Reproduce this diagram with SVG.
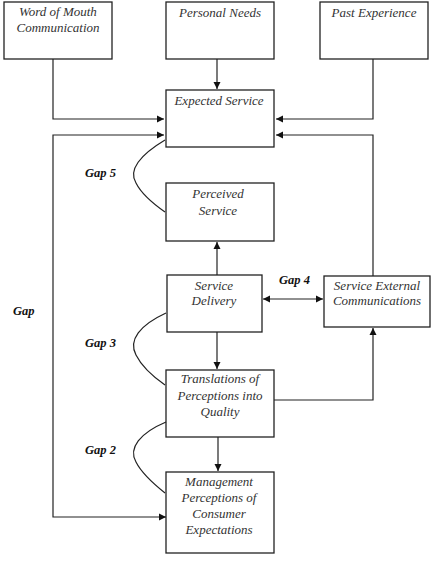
<svg xmlns="http://www.w3.org/2000/svg" width="433" height="563" viewBox="0 0 433 563">
<defs>
<marker id="ah" markerWidth="8" markerHeight="8" refX="7" refY="4" orient="auto-start-reverse" markerUnits="userSpaceOnUse">
<path d="M0,0.5 L7,4 L0,7.5 Z" fill="#111"/>
</marker>
<style>
rect{fill:#fff;stroke:#222;stroke-width:1.3}
text{font-family:"Liberation Serif","Times New Roman",serif;font-style:italic;font-size:13px;fill:#333;text-anchor:middle}
.gap{font-weight:bold;font-size:12.5px;fill:#111;text-anchor:start}
.c line,.c path,.c polyline{fill:none;stroke:#222;stroke-width:1.2}
</style>
</defs>
<rect x="0" y="0" width="433" height="563" style="fill:#fff;stroke:none"/>
<g id="word"><rect x="4" y="2" width="108" height="57"/><text x="58" y="16">Word of Mouth</text><text x="58" y="32">Communication</text></g>
<g id="personal"><rect x="166" y="2" width="108" height="57"/><text x="220" y="17">Personal Needs</text></g>
<g id="past"><rect x="320" y="2" width="108" height="57"/><text x="374" y="17">Past Experience</text></g>
<g id="expected"><rect x="166" y="90" width="108" height="57"/><text x="219" y="105">Expected Service</text></g>
<g id="perceived"><rect x="166" y="183" width="108" height="58"/><text x="218" y="198">Perceived</text><text x="218" y="215">Service</text></g>
<g id="delivery"><rect x="167" y="275" width="95" height="57"/><text x="214" y="290">Service</text><text x="214" y="305">Delivery</text></g>
<g id="external"><rect x="324" y="276" width="106" height="51"/><text x="377" y="290">Service External</text><text x="377" y="305">Communications</text></g>
<g id="translations"><rect x="166" y="370" width="108" height="67"/><text x="220" y="383">Translations of</text><text x="220" y="400">Perceptions into</text><text x="220" y="416">Quality</text></g>
<g id="management"><rect x="166" y="472" width="108" height="81"/><text x="219" y="486">Management</text><text x="219" y="502">Perceptions of</text><text x="219" y="518">Consumer</text><text x="219" y="534">Expectations</text></g>
<g id="labels">
<text class="gap" x="85" y="177">Gap 5</text>
<text class="gap" x="279" y="284">Gap 4</text>
<text class="gap" x="13" y="315">Gap</text>
<text class="gap" x="85" y="347">Gap 3</text>
<text class="gap" x="85" y="454">Gap 2</text>
</g>
<g id="connectors" class="c">
<polyline points="53,59 53,119 164,119" marker-end="url(#ah)"/>
<line x1="217" y1="59" x2="217" y2="89" marker-end="url(#ah)"/>
<polyline points="373,59 373,119 276,119" marker-end="url(#ah)"/>
<polyline points="166,517 53,517 53,135 164,135" marker-start="url(#ah)" marker-end="url(#ah)"/>
<polyline points="373,276 373,135 276,135" marker-end="url(#ah)"/>
<line x1="217" y1="275" x2="217" y2="242" marker-end="url(#ah)"/>
<line x1="263" y1="299" x2="323" y2="299" marker-start="url(#ah)" marker-end="url(#ah)"/>
<line x1="217" y1="332" x2="217" y2="369" marker-end="url(#ah)"/>
<polyline points="274,400 373,400 373,328" marker-end="url(#ah)"/>
<line x1="218" y1="437" x2="218" y2="471" marker-end="url(#ah)"/>
<path d="M165,140 C140,155 128,170 136,183 C142,195 155,205 165,212"/>
<path d="M166,313 C140,325 128,340 136,355 C142,367 155,378 165,385"/>
<path d="M166,422 C140,433 128,448 136,462 C142,474 155,485 165,493"/>
</g>
</svg>
